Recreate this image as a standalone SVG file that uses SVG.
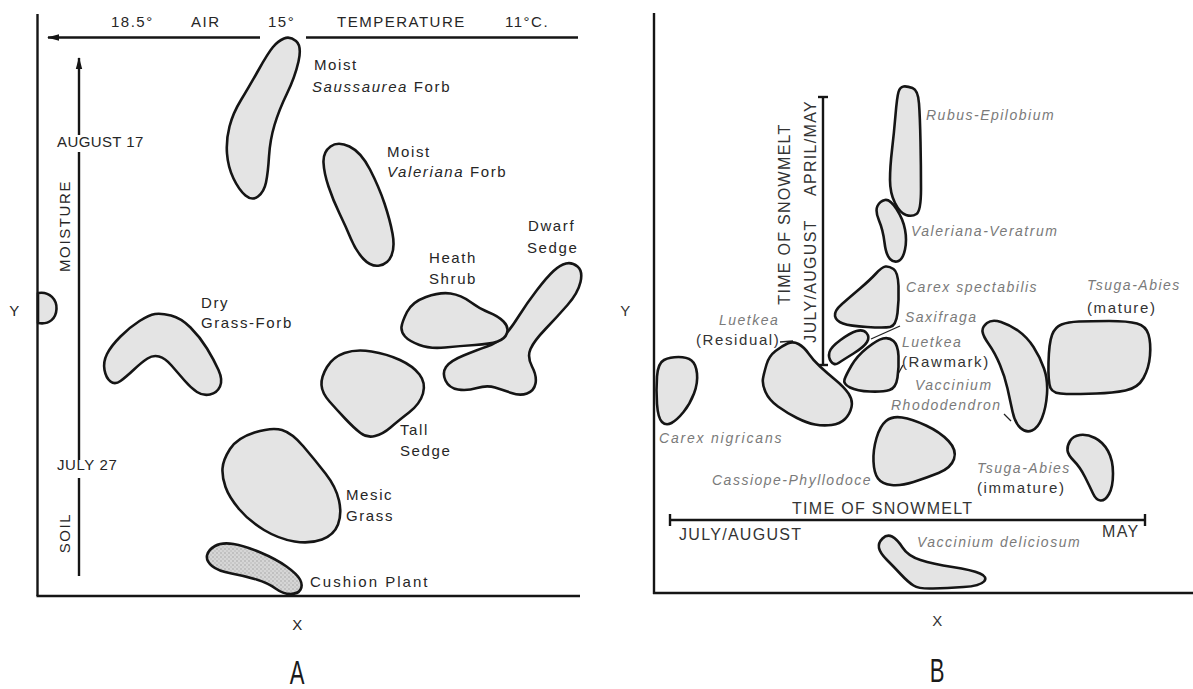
<svg xmlns="http://www.w3.org/2000/svg" width="1193" height="689" viewBox="0 0 1193 689">
<defs>
<style>
.blob{fill:#e4e4e4;stroke:#151515;stroke-width:2.6;stroke-linejoin:round}
.ax{stroke:#151515;stroke-width:2.4;fill:none}
.thin{stroke:#222;stroke-width:1.3;fill:none}
.lbl{font-family:"Liberation Sans",Arial,sans-serif;font-size:15px;letter-spacing:1.6px;fill:#262626}
.top{font-family:"Liberation Sans",Arial,sans-serif;font-size:15px;letter-spacing:1.5px;fill:#262626}
.it{font-family:"Liberation Sans",Arial,sans-serif;font-size:14px;letter-spacing:1.5px;font-style:italic;fill:#7a7a7a}
.bl{font-family:"Liberation Sans",Arial,sans-serif;font-size:15px;letter-spacing:1.6px;fill:#333}
.big{font-family:"Liberation Sans",Arial,sans-serif;font-size:34px;fill:#1a1a1a}
.ital{font-style:italic}
</style>
<marker id="arr" viewBox="0 0 12 8" refX="11" refY="4" markerWidth="12" markerHeight="8" markerUnits="userSpaceOnUse" orient="auto">
<path d="M0,0.8 L12,4 L0,7.2 Z" fill="#151515"/>
</marker>
<pattern id="stip" width="4" height="4" patternUnits="userSpaceOnUse">
<rect width="4" height="4" fill="#d6d6d6"/>
<circle cx="1" cy="1" r="0.7" fill="#9a9a9a"/>
<circle cx="3" cy="3" r="0.7" fill="#b0b0b0"/>
</pattern>
</defs>
<rect width="1193" height="689" fill="#ffffff"/>

<g id="connectors">
<!-- Panel A axes -->
<line class="ax" x1="37.5" y1="14" x2="37.5" y2="596"/>
<line class="ax" x1="36.5" y1="596" x2="580" y2="596"/>
<line class="ax" x1="260" y1="37.5" x2="48" y2="37.5" marker-end="url(#arr)"/>
<line class="ax" x1="306" y1="37.5" x2="578" y2="37.5"/>
<line class="ax" x1="79" y1="135" x2="79" y2="58" marker-end="url(#arr)"/>
<line class="ax" x1="79" y1="152" x2="79" y2="460"/>
<line class="ax" x1="79" y1="478" x2="79" y2="576"/>
<!-- Panel B axes -->
<line class="ax" x1="654" y1="13" x2="654" y2="594"/>
<line class="ax" x1="653" y1="593" x2="1193" y2="593"/>
<line class="ax" x1="823" y1="97" x2="823" y2="365"/>
<line class="ax" x1="818" y1="97" x2="828" y2="97"/>
<line class="ax" x1="818" y1="365" x2="828" y2="365"/>
<line class="ax" x1="670" y1="520" x2="1145" y2="520"/>
<line class="ax" x1="670" y1="514" x2="670" y2="526"/>
<line class="ax" x1="1145" y1="514" x2="1145" y2="526"/>
<!-- leader lines -->
<line class="thin" x1="900" y1="326" x2="871" y2="339"/>
<line class="thin" x1="780" y1="342" x2="793" y2="341"/>
<line class="thin" x1="903" y1="365" x2="897" y2="376"/>
<line class="thin" x1="1004" y1="414" x2="1011" y2="421"/>
</g>

<g id="axis-labels-A">
<text class="top" x="111" y="27">18.5°</text>
<text class="top" x="191" y="27">AIR</text>
<text class="top" x="268" y="27">15°</text>
<text class="top" x="337" y="27">TEMPERATURE</text>
<text class="top" x="505" y="27">11°C.</text>
<text class="lbl" x="57" y="147" style="letter-spacing:0.4px">AUGUST 17</text>
<text class="lbl" x="57" y="470" style="letter-spacing:0.6px">JULY 27</text>
<text class="lbl" transform="translate(70,226) rotate(-90)" text-anchor="middle">MOISTURE</text>
<text class="lbl" transform="translate(70,533) rotate(-90)" text-anchor="middle">SOIL</text>
<text class="lbl" x="15" y="316" text-anchor="middle">Y</text>
<text class="lbl" x="298" y="630" text-anchor="middle">X</text>
<text class="big" transform="translate(297,684) scale(0.65,1)" text-anchor="middle">A</text>
</g>

<g id="node-y-edge">
<path class="blob" d="M38,293 C50,291 57,300 56.5,309 C56,318 50,325 38,323 Z"/>
</g>

<g id="node-saussaurea">
<path class="blob" d="M284,38.5 Q290,36 296,41 Q302,46 298.5,61.5 Q295,77 287,93.5 Q279,110 274.5,125 Q270,140 269,156.5 Q268,173 266,182.5 Q264,192 258,196.5 Q252,201 245.5,195.5 Q239,190 233.5,178.5 Q228,167 227,153.5 Q226,140 229.5,126.5 Q233,113 241,100 Q249,87 258.5,70 Q268,53 273,47 Q278,41 284,38.5 Z"/>
<text class="lbl" x="314" y="70">Moist</text>
<text class="lbl" x="312" y="92"><tspan class="ital">Saussaurea</tspan> Forb</text>
</g>

<g id="node-valeriana">
<path class="blob" d="M330.5,146.5 Q338,141 349.5,146.5 Q361,152 370,169.5 Q379,187 384.5,203.5 Q390,220 392.5,233.5 Q395,247 391.5,255.5 Q388,264 379.5,265.5 Q371,267 363.5,259 Q356,251 351,239 Q346,227 339.5,213.5 Q333,200 328.5,186.5 Q324,173 323.5,162.5 Q323,152 330.5,146.5 Z"/>
<text class="lbl" x="387" y="157">Moist</text>
<text class="lbl" x="387" y="177"><tspan class="ital">Valeriana</tspan> Forb</text>
</g>

<g id="node-dry-grass-forb">
<path class="blob" d="M155,314 Q161,313 171,315.5 Q181,318 190.5,327.5 Q200,337 207,348.5 Q214,360 218.5,370 Q223,380 220,386.5 Q217,393 210,394.5 Q203,396 197,392 Q191,388 184.5,380.5 Q178,373 171.5,365.5 Q165,358 159,356.5 Q153,355 147.5,358.5 Q142,362 134,369.5 Q126,377 120.5,381 Q115,385 110.5,381.5 Q106,378 104.5,370 Q103,362 107,354 Q111,346 120.5,336.5 Q130,327 139.5,321 Q149,315 155,314 Z"/>
<text class="lbl" x="201" y="308">Dry</text>
<text class="lbl" x="201" y="328">Grass-Forb</text>
</g>

<g id="node-dwarf-sedge">
<path class="blob" d="M566,263.5 Q572,262 577.5,266.5 Q583,271 580.5,282 Q578,293 567.5,305 Q557,317 545.5,329 Q534,341 530.5,349 Q527,357 532,366.5 Q537,376 535.5,383.5 Q534,391 527,393.5 Q520,396 511.5,393 Q503,390 495,387.5 Q487,385 477,388 Q467,391 458,389.5 Q449,388 445.5,380.5 Q442,373 446,367 Q450,361 463.5,355.5 Q477,350 487,346.5 Q497,343 503.5,336.5 Q510,330 518.5,316.5 Q527,303 537,290 Q547,277 553.5,271 Q560,265 566,263.5 Z"/>
<text class="lbl" x="528" y="231">Dwarf</text>
<text class="lbl" x="527" y="253">Sedge</text>
</g>

<g id="node-heath-shrub">
<path class="blob" d="M401.5,327 Q402,322 407,312 Q412,302 426,297 Q440,292 450.5,293.5 Q461,295 470.5,302 Q480,309 489,312.5 Q498,316 503.5,321.5 Q509,327 507,333 Q505,339 497.5,341.5 Q490,344 475,345 Q460,346 445,347.5 Q430,349 419.5,345 Q409,341 405,336.5 Q401,332 401.5,327 Z"/>
<text class="lbl" x="429" y="263">Heath</text>
<text class="lbl" x="429" y="284">Shrub</text>
</g>

<g id="node-tall-sedge">
<path class="blob" d="M321.5,385 Q321,377 327,367 Q333,357 344.5,353 Q356,349 371.5,351.5 Q387,354 400,360 Q413,366 419.5,374.5 Q426,383 423,393.5 Q420,404 409,412.5 Q398,421 390.5,427.5 Q383,434 375,436 Q367,438 360.5,433 Q354,428 345.5,419 Q337,410 329.5,401.5 Q322,393 321.5,385 Z"/>
<text class="lbl" x="400" y="435">Tall</text>
<text class="lbl" x="400" y="456">Sedge</text>
</g>

<g id="node-mesic-grass">
<path class="blob" d="M222.5,468.5 Q223,460 230,449 Q237,438 254.5,432.5 Q272,427 282,430 Q292,433 303.5,446.5 Q315,460 325.5,473.5 Q336,487 339,500.5 Q342,514 338,524.5 Q334,535 322,539.5 Q310,544 294.5,541.5 Q279,539 264,530 Q249,521 239,509 Q229,497 225.5,487 Q222,477 222.5,468.5 Z"/>
<text class="lbl" x="346" y="500">Mesic</text>
<text class="lbl" x="346" y="521">Grass</text>
</g>

<g id="node-cushion-plant">
<path class="blob" style="fill:url(#stip)" d="M207,555.5 Q208,550 215,546 Q222,542 233.5,544 Q245,546 260.5,552.5 Q276,559 286.5,566.5 Q297,574 300,579.5 Q303,585 300.5,589.5 Q298,594 290.5,594 Q283,594 275.5,588.5 Q268,583 256.5,579.5 Q245,576 231.5,573.5 Q218,571 212,566 Q206,561 207,555.5 Z"/>
<text class="lbl" x="310" y="587" style="letter-spacing:2px">Cushion Plant</text>
</g>

<!-- Panel B -->
<g id="axis-labels-B">
<text class="bl" transform="translate(790,214) rotate(-90)" text-anchor="middle" style="font-size:16px;letter-spacing:1.3px">TIME OF SNOWMELT</text>
<text class="bl" transform="translate(816,148) rotate(-90)" text-anchor="middle" style="font-size:16px;letter-spacing:1.3px">APRIL/MAY</text>
<text class="bl" transform="translate(816,281) rotate(-90)" text-anchor="middle" style="font-size:16px;letter-spacing:1.3px">JULY/AUGUST</text>
<text class="bl" x="792" y="514" style="font-size:16px;letter-spacing:1.3px">TIME OF SNOWMELT</text>
<text class="bl" x="679" y="540" style="font-size:16px;letter-spacing:1.3px">JULY/AUGUST</text>
<text class="bl" x="1102" y="537" style="font-size:16px;letter-spacing:1.3px">MAY</text>
<text class="bl" x="626" y="316" text-anchor="middle">Y</text>
<text class="bl" x="938" y="626" text-anchor="middle">X</text>
<text class="big" transform="translate(937,682) scale(0.65,1)" text-anchor="middle">B</text>
</g>

<g id="node-rubus-epilobium">
<path class="blob" d="M903.5,86.5 Q907,86 912.5,88 Q918,90 919,103.5 Q920,117 920.5,142 Q921,167 921,189 Q921,211 916.5,214 Q912,217 906,215 Q900,213 895,203 Q890,193 890,180 Q890,167 892,150 Q894,133 895.5,115 Q897,97 898.5,92 Q900,87 903.5,86.5 Z"/>
<text class="it" x="926" y="120">Rubus-Epilobium</text>
</g>

<g id="node-valeriana-veratrum">
<path class="blob" d="M877.5,206 Q880,201 885,200 Q890,199 896.5,209 Q903,219 905,229.5 Q907,240 905,249.5 Q903,259 898.5,261 Q894,263 890,259 Q886,255 884.5,242.5 Q883,230 879,220.5 Q875,211 877.5,206 Z"/>
<text class="it" x="911" y="236">Valeriana-Veratrum</text>
</g>

<g id="node-carex-spectabilis">
<path class="blob" d="M885.5,266.5 Q889,266 893.5,269 Q898,272 898.5,286 Q899,300 897.5,313 Q896,326 890,327 Q884,328 867,327 Q850,326 843,323.5 Q836,321 835,316 Q834,311 842,304 Q850,297 860,288.5 Q870,280 876,273.5 Q882,267 885.5,266.5 Z"/>
<text class="it" x="906" y="292">Carex spectabilis</text>
</g>

<g id="node-saxifraga">
<path class="blob" d="M831,361.5 Q828,357 829.5,352 Q831,347 840.5,340 Q850,333 856.5,331 Q863,329 866.5,333 Q870,337 867,342 Q864,347 853.5,353.5 Q843,360 838.5,363 Q834,366 831,361.5 Z"/>
<text class="it" x="905" y="322">Saxifraga</text>
</g>

<g id="node-luetkea-rawmark">
<path class="blob" d="M844.5,379.5 Q846,375 851.5,365.5 Q857,356 867,348 Q877,340 883,338.5 Q889,337 893.5,341 Q898,345 898.5,356 Q899,367 897.5,377.5 Q896,388 889.5,390 Q883,392 870,391.5 Q857,391 850,387.5 Q843,384 844.5,379.5 Z"/>
<text class="it" x="902" y="347">Luetkea</text>
<text class="bl" x="902" y="367">(Rawmark)</text>
</g>

<g id="node-luetkea-residual">
<path class="blob" d="M763,378.5 Q764,373 766.5,364.5 Q769,356 775.5,351 Q782,346 787.5,343.5 Q793,341 798.5,344 Q804,347 808.5,353.5 Q813,360 820,366.5 Q827,373 835.5,380 Q844,387 848.5,393.5 Q853,400 851.5,407 Q850,414 845,419 Q840,424 831.5,425 Q823,426 815,424.5 Q807,423 797,418 Q787,413 778,406.5 Q769,400 765.5,392 Q762,384 763,378.5 Z"/>
<text class="it" x="719" y="325">Luetkea</text>
<text class="bl" x="696" y="345">(Residual)</text>
</g>

<g id="node-carex-nigricans">
<path class="blob" d="M657,376.5 Q658,363 664,360 Q670,357 678.5,357 Q687,357 691.5,360.5 Q696,364 697,373.5 Q698,383 694,393.5 Q690,404 683.5,412 Q677,420 671.5,423 Q666,426 662,422 Q658,418 657,404 Q656,390 657,376.5 Z"/>
<text class="it" x="659" y="443" style="letter-spacing:1.8px">Carex nigricans</text>
</g>

<g id="node-vaccinium-rhododendron">
<path class="blob" d="M982.5,331.5 Q982,327 987,323 Q992,319 1001,322 Q1010,325 1018.5,331 Q1027,337 1033.5,347 Q1040,357 1044,368.5 Q1048,380 1047,394 Q1046,408 1042,418 Q1038,428 1032,430.5 Q1026,433 1020.5,428 Q1015,423 1012.5,411.5 Q1010,400 1007.5,388.5 Q1005,377 1000,365 Q995,353 989,344.5 Q983,336 982.5,331.5 Z"/>
<text class="it" x="915" y="390">Vaccinium</text>
<text class="it" x="891" y="410">Rhododendron</text>
</g>

<g id="node-tsuga-mature">
<path class="blob" d="M1048.5,362.5 Q1049,343 1052,335 Q1055,327 1061.5,324.5 Q1068,322 1079,321.5 Q1090,321 1109,321 Q1128,321 1137,323.5 Q1146,326 1148.5,334.5 Q1151,343 1150,355.5 Q1149,368 1143.5,378 Q1138,388 1125.5,390.5 Q1113,393 1096.5,393.5 Q1080,394 1066.5,394 Q1053,394 1050.5,388 Q1048,382 1048.5,362.5 Z"/>
<text class="it" x="1087" y="290">Tsuga-Abies</text>
<text class="bl" x="1087" y="313">(mature)</text>
</g>

<g id="node-tsuga-immature">
<path class="blob" d="M1067.5,450.5 Q1067,446 1070,441 Q1073,436 1080,435 Q1087,434 1095,438 Q1103,442 1108,451 Q1113,460 1113,473.5 Q1113,487 1109,494 Q1105,501 1100.5,500.5 Q1096,500 1093,493.5 Q1090,487 1085,477 Q1080,467 1074,461 Q1068,455 1067.5,450.5 Z"/>
<text class="it" x="977" y="473">Tsuga-Abies</text>
<text class="bl" x="977" y="493">(immature)</text>
</g>

<g id="node-cassiope-phyllodoce">
<path class="blob" d="M873.5,461.5 Q873,450 876.5,438 Q880,426 886,421 Q892,416 902,417.5 Q912,419 926,425.5 Q940,432 948.5,441 Q957,450 954,459 Q951,468 938.5,473 Q926,478 913.5,482 Q901,486 891.5,485 Q882,484 878,478.5 Q874,473 873.5,461.5 Z"/>
<text class="it" x="712" y="485">Cassiope-Phyllodoce</text>
</g>

<g id="node-vaccinium-deliciosum">
<path class="blob" d="M879,548 Q878,543 882.5,538.5 Q887,534 892,536.5 Q897,539 902.5,547.5 Q908,556 920.5,560 Q933,564 952.5,567 Q972,570 980,573.5 Q988,577 984,581.5 Q980,586 963.5,587 Q947,588 933,588.5 Q919,589 913.5,585.5 Q908,582 901,574.5 Q894,567 887,560 Q880,553 879,548 Z"/>
<text class="it" x="917" y="547">Vaccinium deliciosum</text>
</g>
</svg>
